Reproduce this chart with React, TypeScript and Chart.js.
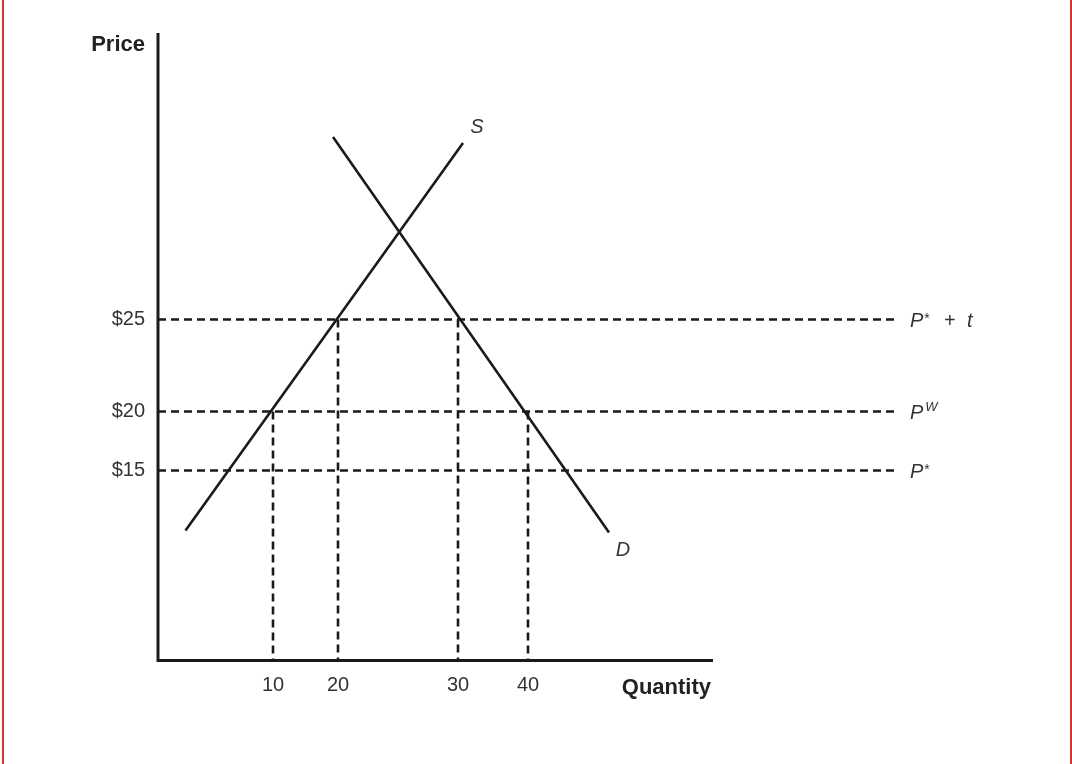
import React, { useEffect, useRef } from 'react';
import { Chart, registerables } from 'chart.js';

Chart.register(...registerables);

// Schematic diagram units (the original drawing is not to scale)
const supplyQ = [5.5, 61];
const supplyP = [26, 103.5];
const demandQ = [35, 90.2];
const demandP = [104.7, 25.6];

const priceLevels = [68.2, 49.8, 38];
const priceTickLabels = ['$25', '$20', '$15'];
const priceLineSup = ['*', 'W', '*'];
const priceLineTail = [true, false, false]; // "+ t" after P*

const quantityMarks = [23, 36, 60, 74];
const quantityTickLabels = ['10', '20', '30', '40'];
const quantityMarkLevel = [1, 0, 0, 1]; // index into priceLevels

const X_MAX = 148;
const Y_MAX = 125.5;
const X_AXIS_END = 111;

const FONT = "'Liberation Sans', Arial, Helvetica, sans-serif";
const INK = '#1a1a1a';
const TEXT = '#333333';

const annotate = {
  id: 'annotate',
  afterDraw(chart: any) {
    const { ctx, scales, chartArea } = chart;
    const x = scales.x;
    const y = scales.y;
    ctx.save();
    // axes
    ctx.strokeStyle = INK;
    ctx.lineWidth = 3;
    ctx.lineJoin = 'miter';
    ctx.lineCap = 'butt';
    ctx.setLineDash([]);
    ctx.beginPath();
    ctx.moveTo(x.getPixelForValue(0), y.getPixelForValue(Y_MAX));
    ctx.lineTo(x.getPixelForValue(0), y.getPixelForValue(0));
    ctx.lineTo(x.getPixelForValue(X_AXIS_END), y.getPixelForValue(0));
    ctx.stroke();

    // axis titles
    ctx.fillStyle = '#222';
    ctx.font = `bold 22px ${FONT}`;
    ctx.textBaseline = 'alphabetic';
    ctx.textAlign = 'right';
    ctx.fillText('Price', x.getPixelForValue(0) - 13, y.getPixelForValue(Y_MAX) + 18);
    ctx.fillText('Quantity', x.getPixelForValue(X_AXIS_END) - 2, y.getPixelForValue(0) + 33);

    // curve names
    ctx.fillStyle = TEXT;
    ctx.font = `italic 20px ${FONT}`;
    ctx.textAlign = 'center';
    ctx.textBaseline = 'middle';
    const sx = x.getPixelForValue(supplyQ[supplyQ.length - 1]);
    const sy = y.getPixelForValue(supplyP[supplyP.length - 1]);
    ctx.fillText('S', sx + 14, sy - 16);
    const dx = x.getPixelForValue(demandQ[demandQ.length - 1]);
    const dy = y.getPixelForValue(demandP[demandP.length - 1]);
    ctx.fillText('D', dx + 14, dy + 18);

    // price line labels
    ctx.textAlign = 'left';
    ctx.textBaseline = 'alphabetic';
    priceLevels.forEach((p, i) => {
      const px = chartArea.right + 12;
      const base = y.getPixelForValue(p) + 7;
      ctx.font = `italic 20px ${FONT}`;
      ctx.fillText('P', px, base);
      const pw = ctx.measureText('P').width;
      if (priceLineSup[i] === '*') {
        ctx.font = `14px ${FONT}`;
        ctx.fillText('*', px + pw + 1, base - 4);
      } else {
        ctx.font = `italic 13px ${FONT}`;
        ctx.fillText(priceLineSup[i], px + pw + 2, base - 8);
      }
      if (priceLineTail[i]) {
        ctx.font = `20px ${FONT}`;
        ctx.fillText('+', px + 34, base);
        ctx.font = `italic 20px ${FONT}`;
        ctx.fillText('t', px + 57, base);
      }
    });
    ctx.restore();
  },
};

export default function App() {
  const ref = useRef<HTMLCanvasElement | null>(null);

  useEffect(() => {
    if (!ref.current) return;
    const line = (data: { x: number; y: number }[], dashed: boolean) => ({
      data,
      showLine: true,
      borderColor: INK,
      backgroundColor: INK,
      borderWidth: 2.6,
      borderDash: dashed ? [8, 5] : [],
      pointRadius: 0,
      pointHoverRadius: 0,
      tension: 0,
      clip: false as any,
    });
    const datasets: any[] = [
      line(supplyQ.map((q, i) => ({ x: q, y: supplyP[i] })), false),
      line(demandQ.map((q, i) => ({ x: q, y: demandP[i] })), false),
      ...priceLevels.map((p) => line([{ x: 0, y: p }, { x: X_MAX, y: p }], true)),
      ...quantityMarks.map((q, i) =>
        line([{ x: q, y: priceLevels[quantityMarkLevel[i]] }, { x: q, y: 0 }], true)
      ),
    ];
    const chart = new Chart(ref.current, {
      type: 'scatter',
      data: { datasets },
      options: {
        responsive: false,
        animation: false,
        events: [],
        layout: { padding: { left: 0, top: 33, right: 174, bottom: 0 } },
        plugins: { legend: { display: false }, tooltip: { enabled: false } },
        scales: {
          x: {
            type: 'linear',
            min: 0,
            max: X_MAX,
            grid: { display: false, drawTicks: false },
            border: { display: false },
            afterBuildTicks: (s: any) => {
              s.ticks = quantityMarks.map((v) => ({ value: v }));
            },
            afterFit: (s: any) => {
              s.height = 103.5;
            },
            ticks: {
              autoSkip: false,
              maxRotation: 0,
              padding: 13,
              color: TEXT,
              font: { family: FONT, size: 20 },
              callback: (v: any) => {
                const i = quantityMarks.indexOf(Number(v));
                return i >= 0 ? quantityTickLabels[i] : '';
              },
            },
          },
          y: {
            type: 'linear',
            min: 0,
            max: Y_MAX,
            grid: { display: false, drawTicks: false },
            border: { display: false },
            afterBuildTicks: (s: any) => {
              s.ticks = priceLevels.map((v) => ({ value: v }));
            },
            afterFit: (s: any) => {
              s.width = 158;
            },
            ticks: {
              autoSkip: false,
              padding: 13,
              color: TEXT,
              font: { family: FONT, size: 20 },
              callback: (v: any) => {
                const i = priceLevels.indexOf(Number(v));
                return i >= 0 ? priceTickLabels[i] : '';
              },
            },
          },
        },
      },
      plugins: [annotate],
    } as any);
    return () => chart.destroy();
  }, []);

  return (
    <div style={{ position: 'absolute', left: 0, top: 0, width: 1072, height: 764, background: '#fff' }}>
      <canvas ref={ref} width={1072} height={764} style={{ position: 'absolute', left: 0, top: 0 }} />
      <div style={{ position: 'absolute', left: 2, top: 0, width: 2, height: 764, background: '#d6352b' }} />
      <div style={{ position: 'absolute', left: 1070, top: 0, width: 2, height: 764, background: '#d6352b' }} />
    </div>
  );
}
